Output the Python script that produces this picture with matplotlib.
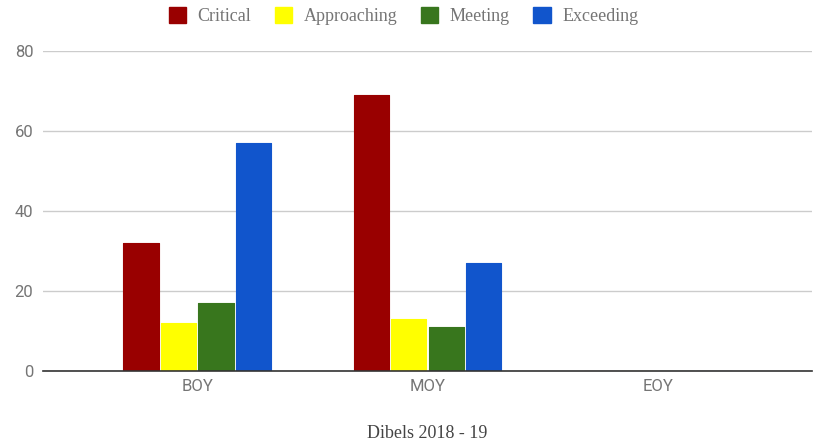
import matplotlib.pyplot as plt
from matplotlib.patches import Patch
import numpy as np

categories = ["BOY", "MOY", "EOY"]
series_names = ["Critical", "Approaching", "Meeting", "Exceeding"]
critical = [32, 69, 0]
approaching = [12, 13, 0]
meeting = [17, 11, 0]
exceeding = [57, 27, 0]
colors = ["#990000", "#ffff00", "#38761d", "#1155cc"]
y_ticks = [0, 20, 40, 60, 80]

values = [critical, approaching, meeting, exceeding]

fig = plt.figure(figsize=(8.17, 4.41), dpi=100)
ax = fig.add_axes([43 / 817, 70 / 441, 769 / 817, 320 / 441])

x = np.arange(len(categories))
slot = 0.163
width = 0.153
for i, (name, vals, c) in enumerate(zip(series_names, values, colors)):
    offs = (i - 1.5) * slot
    ax.bar(x + offs, vals, width, color=c, edgecolor=c, linewidth=0.8,
           joinstyle="round", zorder=3)

ax.set_xlim(-0.67, 2.67)
ax.set_ylim(0, 80)
ax.set_yticks(y_ticks)
ax.set_xticks(x)
ax.set_xticklabels(categories)
ax.grid(axis="y", color="#cccccc", linewidth=1, zorder=0)
for s in ["top", "right", "left"]:
    ax.spines[s].set_visible(False)
ax.spines["bottom"].set_color("#333333")
ax.spines["bottom"].set_linewidth(1.2)
ax.spines["bottom"].set_zorder(4)
ax.tick_params(axis="both", length=0, labelsize=12, labelcolor="#757575",
               labelfontfamily="Roboto")
ax.tick_params(axis="y", pad=7)
ax.tick_params(axis="x", pad=6)

ax.set_xlabel("Dibels 2018 - 19", family="Liberation Serif", fontsize=13,
              color="#444444", labelpad=22)

handles = [Patch(facecolor=c, edgecolor=c) for c in colors]
fig.legend(handles, series_names, loc="center", bbox_to_anchor=(0.494, 1 - 16 / 441),
           ncol=4, frameon=False, prop={"family": "Liberation Serif", "size": 13},
           labelcolor="#757575", handlelength=0.95, handleheight=0.95,
           handletextpad=0.65, columnspacing=1.3)

fig.savefig("out.png", dpi=100)
